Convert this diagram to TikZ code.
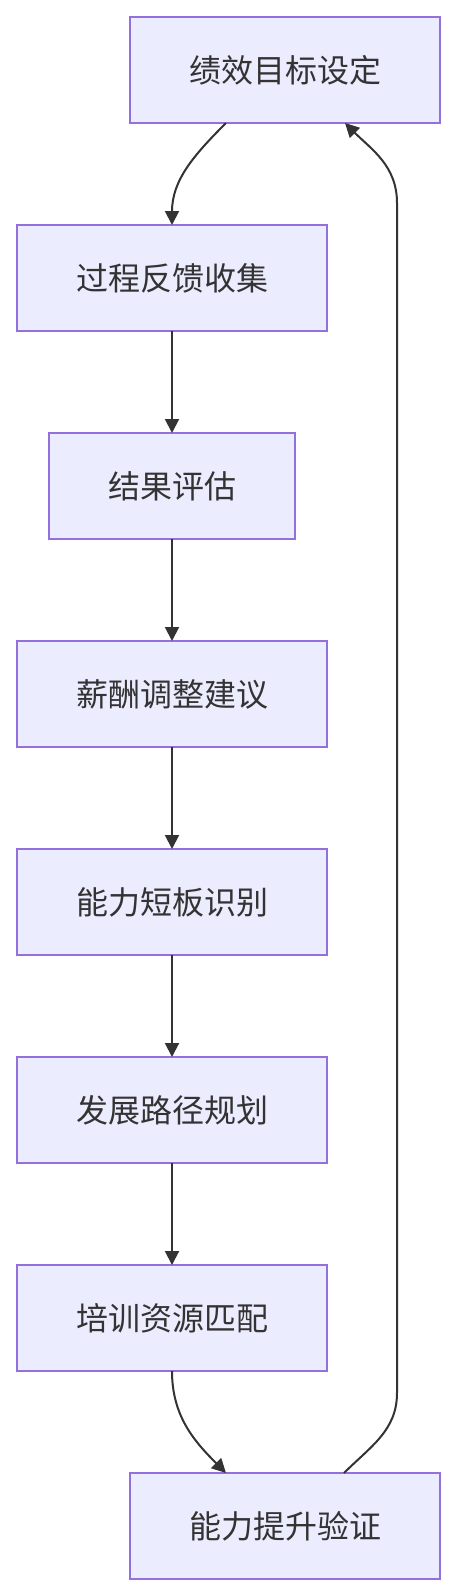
\documentclass[tikz,border=0pt]{standalone}
\usepackage{fontspec}
\newfontfamily\cjk{Noto Sans CJK SC}
\usetikzlibrary{
  positioning,
  arrows.meta
}
\definecolor{boxFill}{HTML}{ECECFF}
\definecolor{boxLine}{HTML}{9370DB}
\definecolor{inkGray}{HTML}{333333}
\tikzset{
  stageNode/.style={
    draw=boxLine, fill=boxFill, line width=2pt, outer sep=0pt,
    minimum width=310pt, minimum height=106pt,
    text=inkGray, font=\cjk\fontsize{32}{32}\selectfont, inner sep=0pt
  },
  narrowNode/.style={
    stageNode, minimum width=246pt
  },
  flowArrow/.style={
    draw=inkGray, line width=2pt,
    -{Triangle[length=14pt,width=14pt]}
  }
}

\begin{document}
\begin{tikzpicture}[node distance=102pt]
\useasboundingbox (0,0) rectangle (457pt,-1596pt);

% ── STAGES ─────────────────────────────────────────────────────────
\node[stageNode] (goal) at (285pt,-70pt) {绩效目标设定};
\node[stageNode, below=of goal, xshift=-113pt] (feedback) {过程反馈收集};
\node[narrowNode, below=of feedback] (review) {结果评估};
\node[stageNode, below=of review] (salary) {薪酬调整建议};
\node[stageNode, below=of salary] (gap) {能力短板识别};
\node[stageNode, below=of gap] (path) {发展路径规划};
\node[stageNode, below=of path] (training) {培训资源匹配};
\node[stageNode, below=of training, xshift=113pt] (verify) {能力提升验证};

% ── EDGES ──────────────────────────────────────────────────────────
\draw[flowArrow] ([xshift=-59pt]goal.south) to[out=-135,in=90] (feedback.north);
\draw[flowArrow] (feedback) -- (review);
\draw[flowArrow] (review) -- (salary);
\draw[flowArrow] (salary) -- (gap);
\draw[flowArrow] (gap) -- (path);
\draw[flowArrow] (path) -- (training);
\draw[flowArrow] (training.south) to[out=-90,in=135] ([xshift=-59pt]verify.north);

% loop back to the goal
\draw[flowArrow] ([xshift=59pt]verify.north)
  to[out=45,in=-90] ([xshift=112pt,yshift=80pt]verify.north)
  -- ([xshift=112pt,yshift=-80pt]goal.south)
  to[out=90,in=-45] ([xshift=60pt]goal.south);

\end{tikzpicture}
\end{document}
